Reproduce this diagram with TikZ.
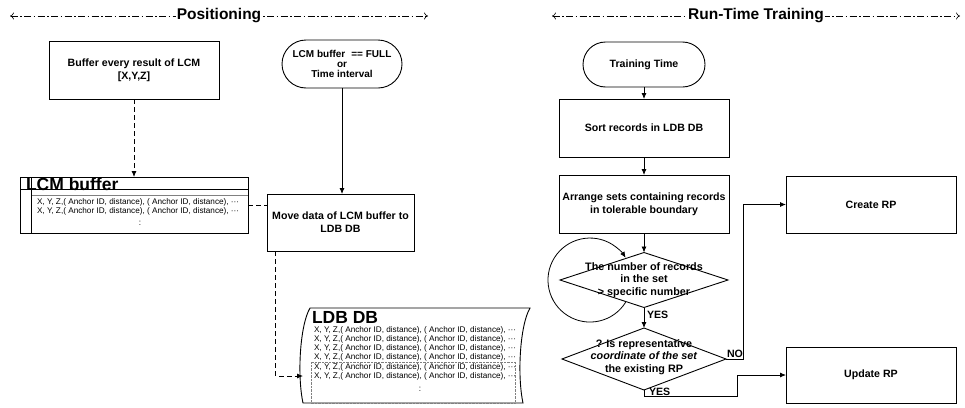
\documentclass[tikz,border=0pt]{standalone}
\usepackage{fontspec}
\setmainfont{Liberation Sans}
\usetikzlibrary{arrows.meta,shapes.geometric,shapes.misc,calc}

\newcommand\lblfont{\fontsize{10.6}{13}\selectfont\bfseries}
\newcommand\decfont{\fontsize{10.8}{12.5}\selectfont\bfseries}
\newcommand\pillfont{\fontsize{10}{10}\selectfont\bfseries}
\newcommand\smallrow{\fontsize{8.2}{9}\selectfont}
\newcommand\hdrfont{\fontsize{15.5}{18}\selectfont\bfseries}
\newcommand\storefont{\fontsize{17.5}{19}\selectfont\bfseries}
\newcommand\rowtext{X, Y, Z,( Anchor ID, distance), ( Anchor ID, distance), ···}

\begin{document}
\begin{tikzpicture}[x=1pt,y=-1pt,
  every node/.style={inner sep=0pt, outer sep=0pt},
  box/.style={draw, line width=0.9pt, minimum width=170pt, minimum height=58pt, align=center, font=\lblfont},
  pill/.style={draw, line width=0.9pt, rounded rectangle, align=center, font=\pillfont},
  dec/.style={draw, line width=0.9pt, diamond},
  dectext/.style={align=center, font=\decfont},
  arr/.style={line width=0.8pt, -{Latex[length=6pt,width=5pt]}},
  dasharr/.style={arr, dash pattern=on 5pt off 3pt},
  dashln/.style={line width=0.8pt, dash pattern=on 5pt off 3pt},
  hdr/.style={line width=0.6pt, {To[length=4pt,width=7pt]}-{To[length=4pt,width=7pt]},
              dash pattern=on 7pt off 2.5pt on 1.5pt off 2.5pt},
  hdrlabel/.style={fill=white, inner xsep=1pt, inner ysep=2pt, font=\hdrfont},
  row/.style={anchor=west, font=\smallrow},
  lbl/.style={font=\lblfont},
]
\useasboundingbox (0,0) rectangle (965,407);

% ---------- section headers ----------
\coordinate (hposL) at (10,16);
\coordinate (hposR) at (428,16);
\draw[hdr] (hposL) -- node[hdrlabel] (hpos) {Positioning} (hposR);
\coordinate (htrL) at (552,16);
\coordinate (htrR) at (960,16);
\draw[hdr] (htrL) -- node[hdrlabel] (htr) {Run-Time Training} (htrR);

% ---------- positioning ----------
\node[box, minimum width=170pt, minimum height=58pt] (buf) at (134,70)
  {Buffer every result of LCM\\{}[X,Y,Z]};
\node[pill, minimum width=120pt, minimum height=48pt] (full) at (342,64)
  {LCM buffer\hspace{6pt}== FULL\\or\\Time interval};

% LCM buffer (internal storage)
\node[draw, line width=0.9pt, minimum width=228pt, minimum height=56pt] (lcm) at (134,205) {};
\draw[line width=0.6pt] (lcm.north west) ++(0,12) -- ++(228,0);
\draw[gray, line width=0.4pt] (lcm.north west) ++(12,18) -- ++(216,0);
\draw[line width=0.6pt] (lcm.north west) ++(11,0) -- ++(0,56);
\node[anchor=base west, font=\storefont] (lcmtitle) at (26,190) {LCM buffer};
\node[row] (lr1) at (37,202) {\rowtext};
\node[row] (lr2) at (37,211) {\rowtext};
\node[font=\smallrow] (lr3) at (140,223) {:};

\node[box, minimum width=147pt, minimum height=57pt] (move) at (340.5,222.5)
  {Move data of LCM buffer to\\LDB DB};

% LDB DB (stored data)
\draw[line width=0.9pt] (310,308) -- (530,308)
  .. controls (520,325) and (517,375) .. (523,403) -- (303,403)
  .. controls (297,375) and (300,325) .. (310,308) -- cycle;
\draw[gray, line width=0.4pt, densely dotted] (311,362) rectangle (515,403);
\node[anchor=base west, font=\storefont] (ldbtitle) at (312,323) {LDB DB};
\node[row] (dr1) at (314,330) {\rowtext};
\node[row] (dr2) at (314,339) {\rowtext};
\node[row] (dr3) at (314,348) {\rowtext};
\node[row] (dr4) at (314,357) {\rowtext};
\node[row] (dr5) at (314,367) {\rowtext};
\node[row] (dr6) at (314,376) {\rowtext};
\node[font=\smallrow] (dr7) at (420,389) {:};
\coordinate (ldbin) at (303,376);

% positioning connectors
\draw[dasharr] (buf.south) -- (buf.south |- lcm.north);
\draw[arr] (full.south) -- (full.south |- move.north);
\draw[dashln] (lcm.east) -- (lcm.east -| move.west);
\draw[dasharr] ($(move.south west)!0.06!(move.south east)$) |- (ldbin);

% ---------- run-time training ----------
\node[pill, font=\lblfont, minimum width=122pt, minimum height=45pt] (tt) at (644,64.5) {Training Time};
\node[box] (sort) at (644,128) {Sort records in LDB DB};
\node[box] (arrange) at (644,204) {Arrange sets containing records\\in tolerable boundary};
\node[dec, minimum width=168pt, minimum height=55pt] (d1) at (644,280) {};
\node[dectext] (d1t) at (644,280) {The number of records\\in the set\\> specific number};
\node[dec, minimum width=164pt, minimum height=62pt] (d2) at (644,359) {};
\node[dectext] (d2t) at (644,357) {? Is representative\\\textit{coordinate of the set}\\the existing RP};
\node[box, minimum height=57pt] (create) at (871,204.5) {Create RP};
\node[box, minimum height=56pt] (update) at (871,375) {Update RP};

\draw[arr] (tt.south) -- (sort.north);
\draw[arr] (sort.south) -- (arrange.north);
\draw[arr] (arrange.south) -- (d1.north);
\draw[arr] (d1.south) -- (d2.north);
\node[lbl, anchor=west] (yes1) at (647,315) {YES};

% loop back onto the first decision
\coordinate (loopa) at (625.6,302.3);
\draw[arr] (loopa) arc[start angle=32, end angle=328, radius=42];

% NO branch
\coordinate (nobend) at (743,354);
\draw[arr] (d2.east) -- (d2.east -| nobend) |- (create.west);
\node[lbl, anchor=south] (nolbl) at (735,358) {NO};

% YES branch
\coordinate (yesturn) at (737,396);
\draw[arr] (d2.south) |- (yesturn) |- (update.west);
\node[lbl, anchor=south west] (yes2) at (649,395.5) {YES};
\end{tikzpicture}
\end{document}
